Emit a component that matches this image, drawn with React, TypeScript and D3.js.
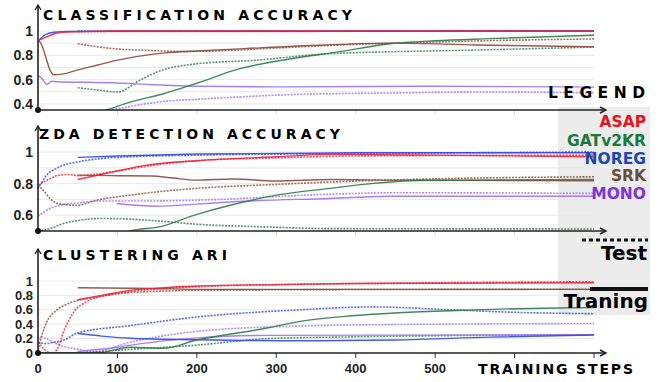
import React, { useEffect, useRef } from 'react';
import * as d3 from 'd3';

type Pt = [number, number];

const methods = ['ASAP', 'GATv2KR', 'NOREG', 'SRK', 'MONO'];
const lineColors: Record<string, string> = {
  ASAP: '#f0203a',
  GATv2KR: '#2e7a48',
  NOREG: '#3048e0',
  SRK: '#8a4a38',
  MONO: '#a070f0',
};
const legendColors: Record<string, string> = {
  ASAP: '#e8141c',
  GATv2KR: '#1a7a3a',
  NOREG: '#1848b0',
  SRK: '#6b4a3c',
  MONO: '#7a36d8',
};

const stepTicks = [0, 100, 200, 300, 400, 500];
const stepMarks = [100, 200, 300, 400, 500, 600, 700];

// classification accuracy
const clsAsapTrain: Pt[] = [[0, 0.92], [10, 0.95], [20, 0.975], [30, 0.99], [60, 0.995], [100, 1], [700, 1]];
const clsAsapTest: Pt[] = [[50, 0.995], [700, 1]];
const clsNoregTrain: Pt[] = [[0, 0.915], [8, 0.965], [20, 0.99], [40, 0.997], [700, 1]];
const clsNoregTest: Pt[] = [[50, 1], [700, 1]];
const clsSrkTrain: Pt[] = [[0, 0.93], [5, 0.88], [10, 0.78], [15, 0.68], [20, 0.64], [30, 0.645], [50, 0.68], [75, 0.72], [100, 0.76], [130, 0.795], [160, 0.82], [200, 0.835], [260, 0.855], [360, 0.885], [450, 0.9], [550, 0.885], [700, 0.87]];
const clsSrkTest: Pt[] = [[50, 0.895], [75, 0.87], [100, 0.852], [140, 0.84], [180, 0.832], [220, 0.835], [300, 0.86], [400, 0.89], [500, 0.91], [600, 0.925], [700, 0.935]];
const clsGatTrain: Pt[] = [[60, 0.3], [86, 0.35], [116, 0.415], [158, 0.484], [200, 0.57], [254, 0.69], [317, 0.77], [380, 0.83], [443, 0.895], [500, 0.92], [569, 0.937], [700, 0.965]];
const clsGatTest: Pt[] = [[50, 0.533], [75, 0.515], [100, 0.498], [128, 0.594], [150, 0.663], [200, 0.73], [275, 0.76], [359, 0.81], [450, 0.83], [527, 0.84], [700, 0.868]];
const clsMonoTrain: Pt[] = [[0, 0.635], [5, 0.61], [11, 0.56], [17, 0.586], [30, 0.58], [60, 0.578], [100, 0.572], [140, 0.56], [200, 0.545], [300, 0.54], [500, 0.545], [700, 0.538]];
const clsMonoTest: Pt[] = [[50, 0.3], [99, 0.358], [130, 0.395], [158, 0.42], [200, 0.438], [317, 0.476], [443, 0.49], [569, 0.498], [700, 0.49]];

// zda detection accuracy
const zdaAsapTrain: Pt[] = [[50, 0.826], [95, 0.875], [137, 0.917], [200, 0.945], [300, 0.97], [372, 0.985], [500, 0.98], [700, 0.97]];
const zdaAsapTest: Pt[] = [[0, 0.79], [15, 0.83], [25, 0.852], [40, 0.858], [50, 0.85], [100, 0.88], [150, 0.92], [200, 0.945], [300, 0.963], [400, 0.975], [700, 0.98]];
const zdaNoregTrain: Pt[] = [[50, 0.966], [100, 0.975], [200, 0.987], [400, 0.995], [700, 0.995]];
const zdaNoregTest: Pt[] = [[0, 0.77], [5, 0.81], [11, 0.854], [23, 0.896], [53, 0.94], [116, 0.97], [200, 0.98], [400, 0.99], [700, 1.0]];
const zdaSrkTrain: Pt[] = [[50, 0.854], [100, 0.85], [143, 0.848], [170, 0.835], [200, 0.822], [246, 0.829], [300, 0.816], [368, 0.826], [450, 0.822], [700, 0.818]];
const zdaSrkTest: Pt[] = [[0, 0.79], [8, 0.75], [15, 0.706], [28, 0.67], [49, 0.663], [74, 0.695], [116, 0.727], [158, 0.752], [200, 0.77], [300, 0.795], [368, 0.81], [500, 0.83], [700, 0.843]];
const zdaGatTrain: Pt[] = [[100, 0.47], [116, 0.5], [154, 0.528], [200, 0.605], [242, 0.663], [300, 0.727], [368, 0.77], [420, 0.8], [480, 0.82], [700, 0.826]];
const zdaGatTest: Pt[] = [[0, 0.5], [15, 0.515], [32, 0.547], [53, 0.568], [74, 0.579], [100, 0.578], [150, 0.564], [200, 0.543], [285, 0.526], [368, 0.515], [700, 0.513]];
const zdaMonoTrain: Pt[] = [[99, 0.674], [150, 0.657], [200, 0.67], [246, 0.685], [368, 0.706], [450, 0.72], [700, 0.72]];
const zdaMonoTest: Pt[] = [[0, 0.594], [15, 0.642], [32, 0.667], [53, 0.678], [74, 0.69], [137, 0.69], [200, 0.695], [368, 0.733], [450, 0.742], [700, 0.738]];

// clustering ARI
const ariAsapTrain: Pt[] = [[50, 0.74], [80, 0.8], [116, 0.87], [150, 0.9], [200, 0.93], [300, 0.95], [400, 0.965], [700, 0.975]];
const ariAsapTest: Pt[] = [[0, 0.15], [8, 0.05], [18, 0.0], [24, 0.05], [32, 0.29], [45, 0.57], [61, 0.71], [95, 0.82], [130, 0.87], [200, 0.92], [300, 0.95], [450, 0.97], [700, 0.99]];
const ariNoregTrain: Pt[] = [[50, 0.27], [80, 0.235], [116, 0.205], [200, 0.185], [330, 0.17], [450, 0.18], [569, 0.22], [700, 0.25]];
const ariNoregTest: Pt[] = [[0, 0.15], [10, 0.13], [20, 0.15], [32, 0.176], [50, 0.28], [116, 0.38], [200, 0.5], [330, 0.6], [422, 0.64], [520, 0.6], [600, 0.565], [700, 0.546]];
const ariSrkTrain: Pt[] = [[50, 0.907], [150, 0.895], [200, 0.884], [700, 0.884]];
const ariSrkTest: Pt[] = [[0, 0.04], [5, 0.25], [11, 0.43], [23, 0.59], [40, 0.694], [74, 0.778], [116, 0.838], [200, 0.87], [350, 0.88], [700, 0.885]];
const ariGatTrain: Pt[] = [[0, 0], [60, 0.0], [80, 0.01], [116, 0.08], [158, 0.065], [200, 0.18], [290, 0.35], [330, 0.44], [400, 0.52], [527, 0.59], [653, 0.625], [700, 0.63]];
const ariGatTest: Pt[] = [[0, 0], [50, 0.005], [116, 0.05], [200, 0.11], [290, 0.2], [400, 0.225], [700, 0.254]];
const ariMonoTrain: Pt[] = [[50, 0.02], [100, 0.08], [130, 0.13], [200, 0.21], [290, 0.245], [700, 0.255]];
const ariMonoTest: Pt[] = [[0, 0.19], [4, 0.22], [10, 0.2], [25, 0.12], [50, 0.05], [70, 0.02], [116, 0.15], [200, 0.3], [330, 0.375], [450, 0.395], [700, 0.41]];

const panels = [
  {
    title: 'CLASSIFICATION ACCURACY', titleX: 43, titleY: 19.5, titleLen: 309,
    domain: [0.35, 1], range: [110, 31], top: 5,
    ticks: [0.4, 0.6, 0.8, 1], grid: [0.4, 0.5, 0.6, 0.7, 0.8, 0.9, 1], tickSize: 14,
    train: { ASAP: clsAsapTrain, GATv2KR: clsGatTrain, NOREG: clsNoregTrain, SRK: clsSrkTrain, MONO: clsMonoTrain },
    test: { ASAP: clsAsapTest, GATv2KR: clsGatTest, NOREG: clsNoregTest, SRK: clsSrkTest, MONO: clsMonoTest },
    labels: false,
  },
  {
    title: 'ZDA DETECTION ACCURACY', titleX: 39, titleY: 139, titleLen: 301,
    domain: [0.5, 1], range: [231, 152], top: 126,
    ticks: [0.6, 0.8, 1], grid: [0.6, 0.7, 0.8, 0.9, 1], tickSize: 14,
    train: { ASAP: zdaAsapTrain, GATv2KR: zdaGatTrain, NOREG: zdaNoregTrain, SRK: zdaSrkTrain, MONO: zdaMonoTrain },
    test: { ASAP: zdaAsapTest, GATv2KR: zdaGatTest, NOREG: zdaNoregTest, SRK: zdaSrkTest, MONO: zdaMonoTest },
    labels: false,
  },
  {
    title: 'CLUSTERING ARI', titleX: 43, titleY: 260, titleLen: 184,
    domain: [0, 1], range: [353, 281], top: 249,
    ticks: [0, 0.2, 0.4, 0.6, 0.8, 1], grid: [0.2, 0.4, 0.6, 0.8, 1], tickSize: 13,
    train: { ASAP: ariAsapTrain, GATv2KR: ariGatTrain, NOREG: ariNoregTrain, SRK: ariSrkTrain, MONO: ariMonoTrain },
    test: { ASAP: ariAsapTest, GATv2KR: ariGatTest, NOREG: ariNoregTest, SRK: ariSrkTest, MONO: ariMonoTest },
    labels: true,
  },
];

export default function App() {
  const ref = useRef<SVGSVGElement>(null);

  useEffect(() => {
    const svg = d3.select(ref.current);
    svg.selectAll('*').remove();

    const x = d3.scaleLinear().domain([0, 700]).range([38, 594]);
    const axisEnd = 606;
    const sans = 'DejaVu Sans, sans-serif';
    const tickFont = 'Liberation Sans, Arial, sans-serif';

    // legend box sits behind the lines
    svg.append('rect').attr('x', 558).attr('y', 107).attr('width', 92).attr('height', 208).attr('fill', '#ececec');

    const defs = svg.append('defs');

    panels.forEach((p, i) => {
      const y = d3.scaleLinear().domain(p.domain).range(p.range);
      const base = p.range[0];
      const g = svg.append('g');

      defs.append('clipPath').attr('id', `clip${i}`)
        .append('rect').attr('x', 38).attr('y', p.top).attr('width', axisEnd - 38).attr('height', base - p.top);

      g.selectAll('.grid').data(p.grid).enter().append('line')
        .attr('x1', 38).attr('x2', x(700))
        .attr('y1', d => y(d)).attr('y2', d => y(d))
        .attr('stroke', '#e8e8e8').attr('stroke-width', 1);

      g.selectAll('.xt').data(stepMarks).enter().append('line')
        .attr('x1', d => x(d)).attr('x2', d => x(d))
        .attr('y1', base).attr('y2', base + 5)
        .attr('stroke', p.labels ? '#333' : '#ddd').attr('stroke-width', 1);

      const line = d3.line<Pt>().x(d => x(d[0])).y(d => y(d[1])).curve(d3.curveMonotoneX);
      const lg = g.append('g').attr('clip-path', `url(#clip${i})`).attr('fill', 'none');
      ['test', 'train'].forEach(kind => {
        methods.slice().reverse().forEach(m => {
          const data = (p as any)[kind][m] as Pt[];
          lg.append('path')
            .attr('d', line(data))
            .attr('stroke', lineColors[m])
            .attr('stroke-width', kind === 'train' ? 1.4 : 1.6)
            .attr('stroke-dasharray', kind === 'test' ? '2,1.2' : null)
            .attr('stroke-opacity', kind === 'test' ? 0.8 : 0.9);
        });
      });

      g.append('line').attr('x1', 38).attr('x2', axisEnd).attr('y1', base).attr('y2', base)
        .attr('stroke', '#222').attr('stroke-width', 1.6);
      g.append('path').attr('d', `M${axisEnd - 6},${base - 3}L${axisEnd},${base}L${axisEnd - 6},${base + 3}`)
        .attr('fill', 'none').attr('stroke', '#222').attr('stroke-width', 1.4);
      g.append('line').attr('x1', 38).attr('x2', 38).attr('y1', base).attr('y2', p.top)
        .attr('stroke', '#222').attr('stroke-width', 1.6);
      g.append('path').attr('d', `M35,${p.top + 5}L38,${p.top}L41,${p.top + 5}`)
        .attr('fill', 'none').attr('stroke', '#222').attr('stroke-width', 1.4);
      g.append('circle').attr('cx', 38).attr('cy', base).attr('r', 3).attr('fill', '#111');

      g.selectAll('.yl').data(p.ticks).enter().append('text')
        .attr('x', 33).attr('y', d => y(d)).attr('dy', '0.36em')
        .attr('text-anchor', 'end').attr('font-family', tickFont).attr('font-weight', 700)
        .attr('font-size', p.tickSize).attr('fill', '#222')
        .text(d => d3.format('~g')(d));

      g.append('text').attr('x', p.titleX).attr('y', p.titleY)
        .attr('font-family', sans).attr('font-weight', 900).attr('font-size', 14)
        .attr('textLength', p.titleLen).attr('lengthAdjust', 'spacing')
        .attr('fill', '#000').text(p.title);

      if (p.labels) {
        g.selectAll('.xl').data(stepTicks).enter().append('text')
          .attr('x', d => x(d)).attr('y', 373)
          .attr('text-anchor', 'middle').attr('font-family', tickFont).attr('font-weight', 700)
          .attr('font-size', 13).attr('fill', '#222')
          .text(d => String(d));
      }
    });

    svg.append('text').attr('x', 478).attr('y', 374)
      .attr('font-family', sans).attr('font-weight', 900).attr('font-size', 14)
      .attr('textLength', 155).attr('lengthAdjust', 'spacing').text('TRAINING STEPS');

    svg.append('text').attr('x', 548).attr('y', 98)
      .attr('font-family', sans).attr('font-weight', 900).attr('font-size', 15.5)
      .attr('textLength', 97).attr('lengthAdjust', 'spacing').text('LEGEND');

    const legendY = [127, 145.5, 163.5, 181, 198.5];
    methods.forEach((m, k) => {
      svg.append('text').attr('x', 646).attr('y', legendY[k]).attr('text-anchor', 'end')
        .attr('font-family', sans).attr('font-weight', 700).attr('font-size', 15.5)
        .attr('fill', legendColors[m]).text(m);
    });

    svg.append('line').attr('x1', 582).attr('x2', 648).attr('y1', 240).attr('y2', 240)
      .attr('stroke', '#111').attr('stroke-width', 3).attr('stroke-dasharray', '4,3');
    svg.append('text').attr('x', 647).attr('y', 260).attr('text-anchor', 'end')
      .attr('font-family', sans).attr('font-weight', 700).attr('font-size', 20).text('Test');
    svg.append('line').attr('x1', 590).attr('x2', 648).attr('y1', 289).attr('y2', 289)
      .attr('stroke', '#111').attr('stroke-width', 4);
    svg.append('text').attr('x', 648).attr('y', 308).attr('text-anchor', 'end')
      .attr('font-family', sans).attr('font-weight', 700).attr('font-size', 20).text('Traning');
  }, []);

  return (
    <svg ref={ref} width={665} height={382}
      style={{ position: 'absolute', left: 0, top: 0, background: '#fff' }} />
  );
}
